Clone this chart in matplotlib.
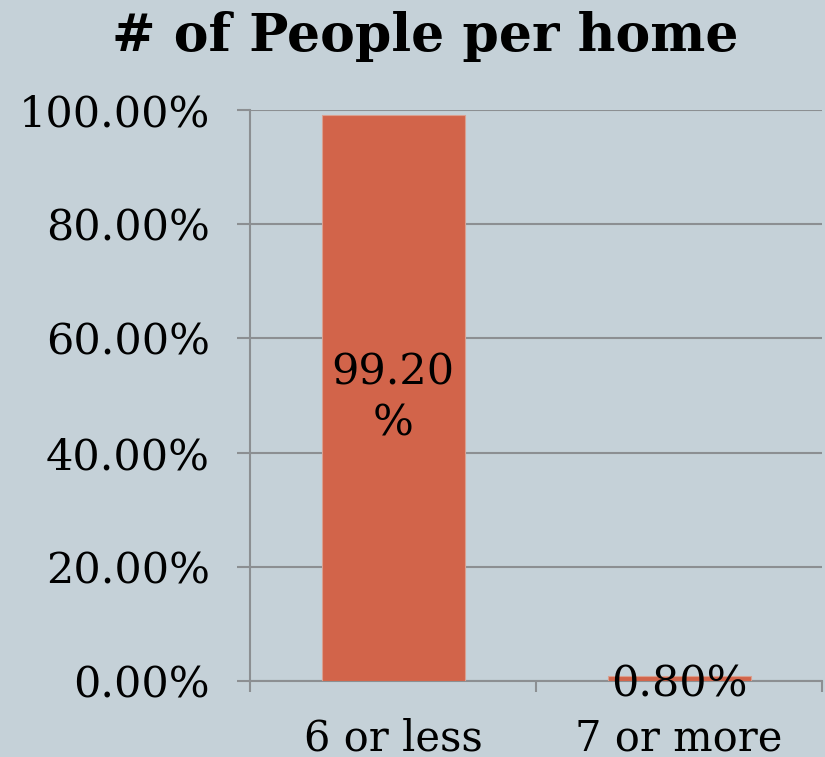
import matplotlib
matplotlib.use("Agg")
import matplotlib.pyplot as plt
from matplotlib.ticker import FuncFormatter

categories = ["6 or less", "7 or more"]
values = [99.20, 0.80]
label_texts = ["99.20\n%", "0.80%"]
yticks = [0, 20, 40, 60, 80, 100]

bg = "#C5D1D8"
bar_color = "#D2644A"
grid_color = "#8C8F92"
fs = 31

fig = plt.figure(figsize=(8.25, 7.57), dpi=100, facecolor=bg)
ax = fig.add_axes([250/825, 1-681/757, 572/825, 571/757])
ax.set_facecolor(bg)

x = range(len(categories))
ax.bar(x, values, width=0.5, color=bar_color, edgecolor="#D9A090", linewidth=0.8, zorder=3)
ax.set_xlim(-0.5, 1.5)
ax.set_ylim(0, 100)
ax.set_yticks(yticks)
ax.yaxis.set_major_formatter(FuncFormatter(lambda v, p: f"{v:.2f}%"))
ax.set_xticks([-0.5, 0.5, 1.5])
ax.set_xticklabels([])
ax.set_xticks(list(x), minor=True)
ax.set_xticklabels(categories, minor=True)
ax.tick_params(axis="x", which="minor", length=0, pad=26, labelsize=30)
ax.tick_params(axis="x", which="major", length=8, width=1.5, color=grid_color)
ax.tick_params(axis="y", length=9.4, width=1.5, color=grid_color, pad=19.5, labelsize=fs)
for lab in ax.get_yticklabels() + ax.get_xticklabels(minor=True):
    lab.set_family("DejaVu Serif")

ax.grid(axis="y", color=grid_color, linewidth=1.5, zorder=0)
for s in ["top", "right"]:
    ax.spines[s].set_visible(False)
ax.spines["left"].set_color(grid_color)
ax.spines["left"].set_linewidth(1.5)
ax.spines["bottom"].set_color(grid_color)
ax.spines["bottom"].set_linewidth(1.5)

ax.text(0, 49.6, label_texts[0], ha="center", va="center", fontsize=fs,
        family="DejaVu Serif", linespacing=1.28, zorder=4)
ax.text(1, -0.6, label_texts[1], ha="center", va="center", fontsize=fs,
        family="DejaVu Serif", zorder=4)

fig.text(0.515, 0.952, "# of People per home", ha="center", va="center",
         fontsize=37.5, fontweight="bold", family="DejaVu Serif")

fig.savefig("out.png", dpi=100, facecolor=bg)
